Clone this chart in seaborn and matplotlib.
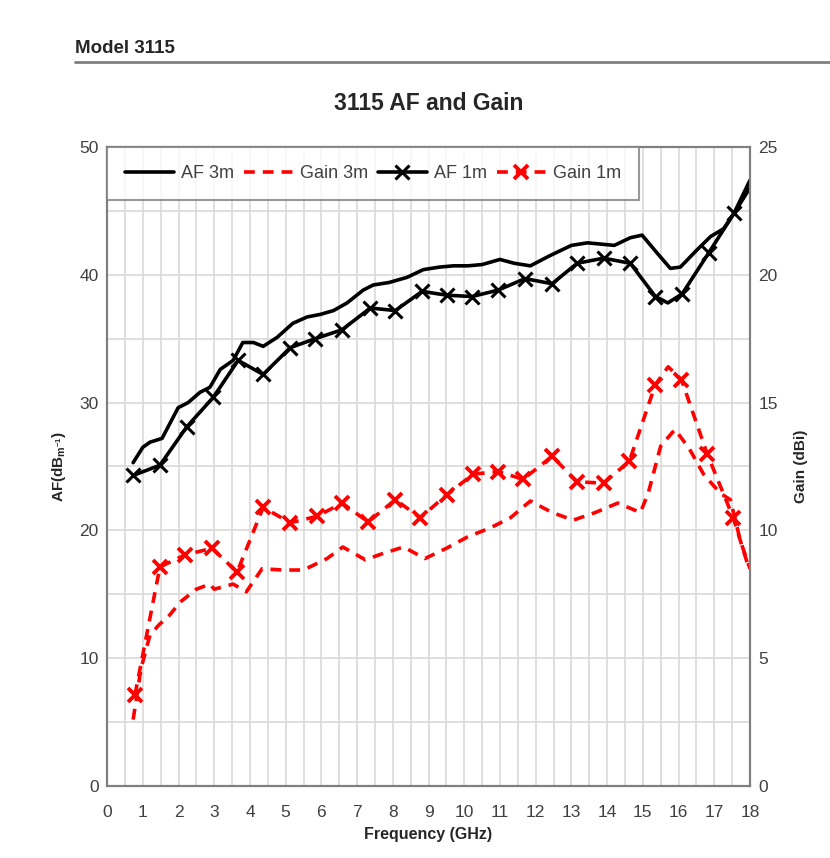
import matplotlib
matplotlib.use("Agg")
import matplotlib.pyplot as plt
import seaborn as sns
import numpy as np
from matplotlib.lines import Line2D

# ---- data ----
af3m_freq = [0.73, 1.0, 1.2, 1.54, 1.99, 2.27, 2.6, 2.88, 3.17, 3.53, 3.8, 4.1, 4.37, 4.76,
             5.2, 5.6, 5.97, 6.34, 6.72, 7.17, 7.45, 7.9, 8.4, 8.85, 9.3, 9.7, 10.1, 10.5,
             11.0, 11.4, 11.85, 12.4, 13.0, 13.45, 14.2, 14.65, 14.98, 15.4, 15.77, 16.05,
             16.5, 16.9, 17.26, 17.55, 18.0]
af3m = [25.3, 26.5, 26.9, 27.2, 29.6, 30.0, 30.8, 31.2, 32.6, 33.3, 34.7, 34.7, 34.4, 35.1,
        36.2, 36.7, 36.9, 37.2, 37.8, 38.8, 39.2, 39.4, 39.8, 40.4, 40.6, 40.7, 40.7, 40.8,
        41.2, 40.9, 40.7, 41.5, 42.3, 42.5, 42.3, 42.9, 43.1, 41.7, 40.5, 40.6,
        41.9, 43.0, 43.6, 44.8, 47.4]

af1m_freq = [0.73, 1.48, 2.23, 2.97, 3.67, 4.37, 5.13, 5.83, 6.58, 7.37, 8.07, 8.82, 9.52,
             10.22, 10.95, 11.7, 12.46, 13.16, 13.9, 14.65, 15.35, 15.7, 16.1, 16.84, 17.55, 18.0]
af1m = [24.3, 25.1, 28.1, 30.4, 33.3, 32.2, 34.3, 35.0, 35.7, 37.4, 37.2, 38.7, 38.4,
        38.3, 38.8, 39.7, 39.3, 40.9, 41.3, 40.9, 38.3, 37.8, 38.5, 41.7, 44.8, 46.8]
af1m_marked = [0, 1, 2, 3, 4, 5, 6, 7, 8, 9, 10, 11, 12, 13, 14, 15, 16, 17, 18, 19, 20, 22, 23, 24]

gain3m_freq = [0.73, 0.95, 1.2, 1.45, 1.76, 2.05, 2.5, 2.88, 3.0, 3.53, 3.9, 4.34, 4.93, 5.5,
               6.16, 6.6, 7.23, 7.73, 8.3, 8.9, 9.5, 10.1, 10.73, 11.3, 11.85, 12.46, 13.05,
               13.67, 14.3, 14.93, 15.15, 15.5, 15.9, 16.3, 16.7, 17.17, 17.45, 17.73, 18.0]
gain3m = [2.6, 4.6, 5.9, 6.3, 6.7, 7.2, 7.7, 7.9, 7.7, 7.9, 7.6, 8.5, 8.45, 8.45,
          8.9, 9.35, 8.85, 9.1, 9.35, 8.9, 9.3, 9.75, 10.1, 10.5, 11.15, 10.7, 10.4,
          10.7, 11.07, 10.7, 11.45, 13.3, 13.95, 13.2, 12.2, 11.45, 11.2, 9.6, 8.5]

gain1m_freq = [0.78, 1.48, 2.18, 2.94, 3.64, 4.37, 5.13, 5.88, 6.58, 7.31, 8.07, 8.77, 9.52,
               10.25, 10.95, 11.65, 12.46, 13.16, 13.9, 14.62, 15.35, 15.71, 16.08, 16.8,
               17.53, 17.93]
gain1m = [3.56, 8.57, 9.04, 9.3, 8.37, 10.9, 10.3, 10.55, 11.07, 10.33, 11.2, 10.5, 11.4,
          12.2, 12.3, 12.0, 12.9, 11.9, 11.85, 12.7, 15.7, 16.4, 15.9, 13.0, 10.5, 8.7]
gain1m_marked = [0, 1, 2, 3, 4, 5, 6, 7, 8, 9, 10, 11, 12, 13, 14, 15, 16, 17, 18, 19, 20, 22, 23, 24]

x_ticks = list(range(0, 19))
af_ticks = [0, 10, 20, 30, 40, 50]
gain_ticks = [0, 5, 10, 15, 20, 25]

# ---- style ----
sns.set_style("white")
plt.rcParams['font.family'] = ['Liberation Sans', 'DejaVu Sans']
tick_col = "#404040"
grid_col = "#d9d9d9"
spine_col = "#7f7f7f"

fig = plt.figure(figsize=(8.3, 8.58), dpi=100)
ax = fig.add_axes([0.129, 0.0839, 0.7746, 0.7448])
ax2 = ax.twinx()

# grid
ax.set_xlim(0, 18)
ax.set_ylim(0, 50)
ax2.set_ylim(0, 25)
ax.set_xticks(x_ticks)
ax.set_xticks(np.arange(0.5, 18, 1.0), minor=True)
ax.set_yticks(af_ticks)
ax.set_yticks([5, 15, 25, 35, 45], minor=True)
ax2.set_yticks(gain_ticks)
ax.grid(True, which="both", color=grid_col, linewidth=1.2)
ax.set_axisbelow(True)

# lines
lw = 2.6
sns.lineplot(x=af3m_freq, y=af3m, ax=ax, color="black", linewidth=lw, sort=False)
sns.lineplot(x=af1m_freq, y=af1m, ax=ax, color="black", linewidth=lw, sort=False,
             marker="x", markersize=10, markeredgewidth=2.2, markevery=af1m_marked,
             markeredgecolor="black")
sns.lineplot(x=gain3m_freq, y=gain3m, ax=ax2, color="#ff0000", linewidth=lw, sort=False,
             linestyle=(0, (3, 2.2)))
sns.lineplot(x=gain1m_freq, y=gain1m, ax=ax2, color="#ff0000", linewidth=lw, sort=False,
             linestyle=(0, (3, 2.2)), marker="x", markersize=10, markeredgewidth=2.8,
             markevery=gain1m_marked, markeredgecolor="#ff0000")

# axes cosmetics
for a in (ax, ax2):
    for s in a.spines.values():
        s.set_color(spine_col)
        s.set_linewidth(1.5)
    a.tick_params(length=0, labelsize=12.5, labelcolor=tick_col, pad=6)
ax.tick_params(axis="x", pad=14)
ax.tick_params(axis="x", which="minor", length=0)
ax.tick_params(axis="y", which="minor", length=0)

ax.set_xlabel("Frequency (GHz)", fontsize=11.5, fontweight="bold", labelpad=5)
ax.set_ylabel(r"AF(dB$_{\mathregular{m^{-1}}}$)", fontsize=11, fontweight="bold", labelpad=8)
ax2.set_ylabel("Gain (dBi)", fontsize=11, fontweight="bold", labelpad=12)

# legend
handles = [
    Line2D([], [], color="black", linewidth=lw),
    Line2D([], [], color="#ff0000", linewidth=lw, linestyle=(0, (3, 2.2))),
    Line2D([], [], color="black", linewidth=lw, marker="x", markersize=10, markeredgewidth=2.2),
    Line2D([], [], color="#ff0000", linewidth=lw, linestyle=(0, (3, 2.2)), marker="x",
           markersize=10, markeredgewidth=2.8),
]
labels = ["AF 3m", "Gain 3m", "AF 1m", "Gain 1m"]
leg = ax2.legend(handles, labels, loc="upper left", bbox_to_anchor=(0.0, 1.0), ncol=4,
                 frameon=True, fancybox=False, edgecolor=spine_col, fontsize=13,
                 handlelength=2.7, handletextpad=0.4, columnspacing=0.55,
                 borderpad=1.0, borderaxespad=0.0, labelcolor=tick_col)
leg.get_frame().set_linewidth(1.5)

# title and header
fig.text(0.516, 0.879, "3115 AF and Gain", ha="center", va="center", fontsize=16.5,
         fontweight="bold")
fig.text(0.09, 0.944, "Model 3115", ha="left", va="center", fontsize=13.5, fontweight="bold")
fig.add_artist(Line2D([0.09, 1.0], [0.9277, 0.9277], transform=fig.transFigure,
                      color="#7f7f7f", linewidth=2))

fig.savefig("out.png", dpi=100)
